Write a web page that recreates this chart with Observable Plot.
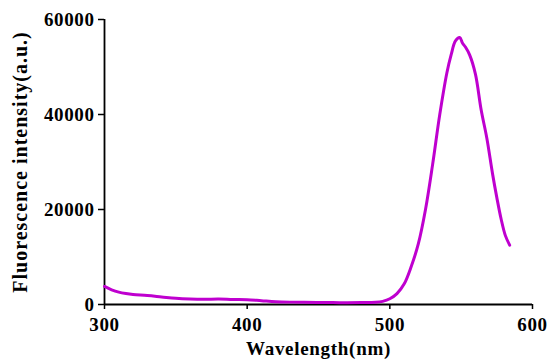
<!DOCTYPE html>
<html>
<head>
<meta charset="utf-8">
<script src="https://cdn.jsdelivr.net/npm/d3@7"></script>
<script src="https://cdn.jsdelivr.net/npm/@observablehq/plot@0.6"></script>
<style>
  html, body { margin: 0; padding: 0; background: #fff; }
  #chart svg { display: block; }
  #chart svg g[aria-label="x-axis tick label"] text,
  #chart svg g[aria-label="y-axis tick label"] text { letter-spacing: 0.6px; }
  #chart svg g[aria-label="x-axis label"] text { letter-spacing: 0.7px; }
  #chart svg g[aria-label="y-axis label"] text { letter-spacing: 1px; font-size: 20px; }
</style>
</head>
<body>
<div id="chart"></div>
<script>
const wavelength = [300,305,310,315,320,330,340,350,360,370,380,390,400,410,420,430,440,450,460,470,480,490,495,500,505,510,515,520,525,530,535,540,543,546,549,551,553,556,560,564,568,572,575,578,581,584];
const intensity = [3800,3100,2600,2300,2100,1900,1600,1300,1150,1100,1150,1050,1000,800,600,500,450,400,400,380,400,450,650,1200,2300,4300,8000,12800,20000,29500,40000,48800,52600,55500,56200,55000,54200,52500,48500,41000,35000,27500,22500,18000,14500,12500];
const xTicks = [300,400,500,600];
const yTicks = [0,20000,40000,60000];

const data = wavelength.map((w, i) => ({w, v: intensity[i]}));

const chart = Plot.plot({
  width: 549,
  height: 360,
  marginLeft: 104,
  marginRight: 17,
  marginTop: 19,
  marginBottom: 56,
  style: {fontFamily: "'Liberation Serif', 'Times New Roman', serif", fontSize: "19px", fontWeight: "bold", color: "#000", background: "#fff"},
  x: {domain: [300, 600]},
  y: {domain: [0, 60000]},
  marks: [
    Plot.axisX({ticks: xTicks, tickFormat: d3.format("d"), tickSize: 5, tickPadding: 8, stroke: "#000", strokeWidth: 1.5,
      label: "Wavelength(nm)", labelAnchor: "center", labelArrow: "none", labelOffset: 50}),
    Plot.axisY({ticks: yTicks, tickFormat: d3.format("d"), tickSize: 6, tickPadding: 4, stroke: "#000", strokeWidth: 1.5,
      label: "Fluorescence intensity(a.u.)", labelAnchor: "center", labelArrow: "none", labelOffset: 92}),
    Plot.ruleY([0], {stroke: "#000", strokeWidth: 1.8}),
    Plot.ruleX([300], {stroke: "#000", strokeWidth: 1.8}),
    Plot.line(data, {x: "w", y: "v", stroke: "#bf00cf", strokeWidth: 3, curve: "catmull-rom"})
  ]
});
document.getElementById("chart").appendChild(chart);
</script>
</body>
</html>
